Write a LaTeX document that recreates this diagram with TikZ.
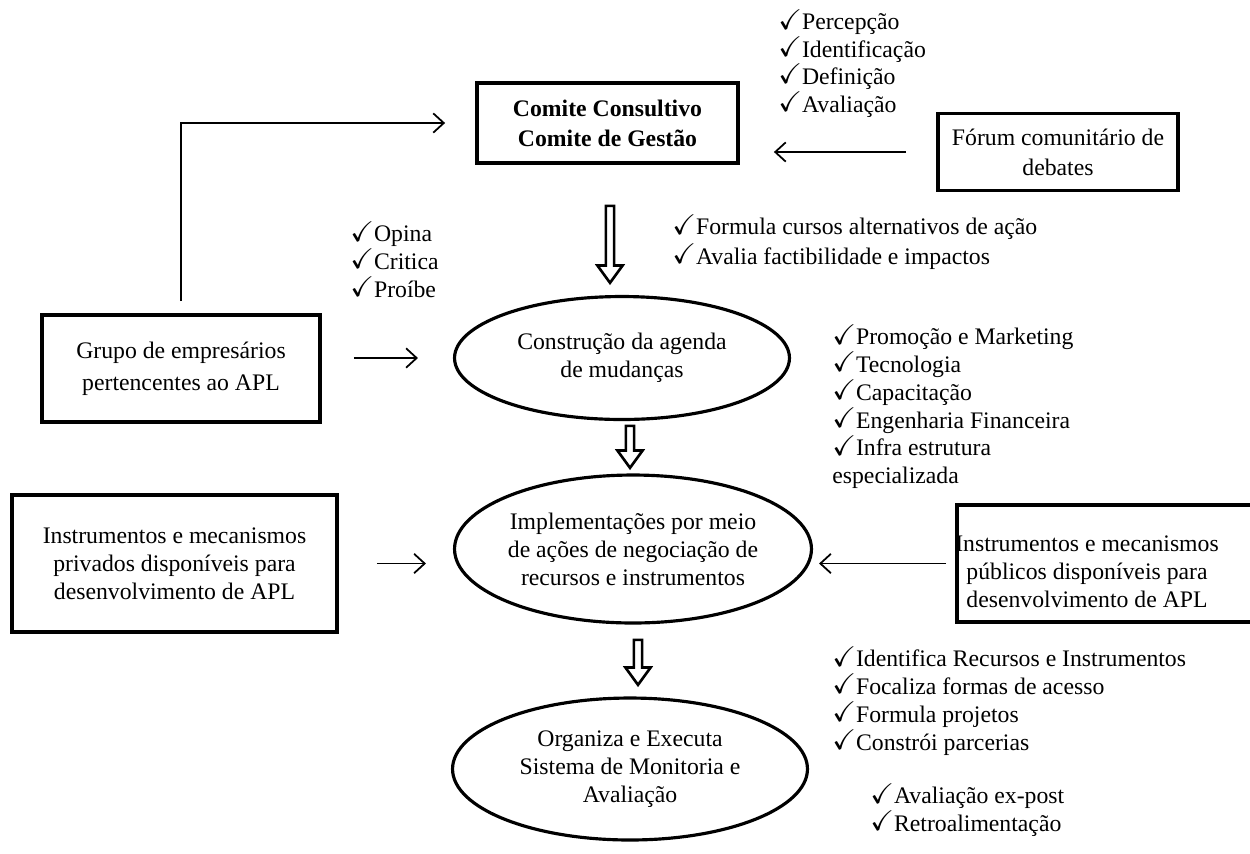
\documentclass[tikz,border=0pt]{standalone}
\usepackage{fontspec}
\setmainfont{Liberation Serif}
\usepackage{amssymb}
\usetikzlibrary{shapes,arrows.meta,positioning}
\newcommand{\ck}{\raisebox{0.5pt}{\scalebox{1.2}{$\checkmark$}}}

\begin{document}
\begin{tikzpicture}[x=0.02cm, y=-0.02cm,
    font=\fontsize{13.5}{16}\selectfont,
    box/.style={rectangle, draw, line width=2.2pt, align=center, inner sep=0pt},
    stage/.style={ellipse, draw, line width=1.8pt, align=center, inner sep=0pt},
    list/.style={anchor=north west, inner sep=0pt, align=left, font=\fontsize{13.5}{15.8}\selectfont},
    arrow/.style={-{Straight Barb[length=6pt,width=11pt]}, line width=1pt},
    flow/.style={single arrow, draw, line width=1.5pt, rotate=-90, inner sep=0.056cm,
        single arrow head extend=0.17cm, single arrow tip angle=72}
]
    \useasboundingbox (0,0) rectangle (1250,853);

    % boxes and stages
    \node[box, minimum width=5.22cm, minimum height=1.6cm, font=\fontsize{13.5}{17}\selectfont\bfseries] (comite) at (607.5,123) {Comite Consultivo\\Comite de Gestão};
    \node[box, minimum width=4.8cm, minimum height=1.54cm, font=\fontsize{13.5}{17}\selectfont] (forum) at (1058,152) {Fórum comunitário de\\debates};
    \node[box, minimum width=5.56cm, minimum height=2.14cm, font=\fontsize{13.5}{18}\selectfont] (grupo) at (181,368.5) {Grupo de empresários\\pertencentes ao APL};
    \node[stage, minimum width=6.7cm, minimum height=2.46cm] (agenda) at (622,358) {Construção da agenda\\de mudanças};
    \node[stage, minimum width=7.14cm, minimum height=2.96cm] (acoes) at (633,549) {Implementações por meio\\de ações de negociação de\\recursos e instrumentos};
    \node[box, minimum width=6.5cm, minimum height=2.74cm] (privados) at (174.5,563.5) {Instrumentos e mecanismos\\privados disponíveis para\\desenvolvimento de APL};
    \node[box, minimum width=5.92cm, minimum height=2.34cm] (publicos) at (1105,563.5) {};
    \node[align=center, inner sep=0pt] (publicostxt) at (1087,572) {Instrumentos e mecanismos\\públicos disponíveis para\\desenvolvimento de APL};
    \node[stage, minimum width=7.1cm, minimum height=2.84cm] (monitoria) at (630,769) {Organiza e Executa\\Sistema de Monitoria e\\Avaliação};

    % check lists
    \node[list, font=\fontsize{13.5}{13.6}\selectfont] (etapas) at (778,9) {\ck Percepção\\\ck Identificação\\\ck Definição\\\ck Avaliação};
    \node[list, font=\fontsize{13.5}{17}\selectfont] (formula) at (672,214) {\ck Formula cursos alternativos de ação\\\ck Avalia factibilidade e impactos};
    \node[list] (opina) at (350,221) {\ck Opina\\\ck Critica\\\ck Proíbe};
    \node[list] (temas) at (832,324) {\ck Promoção e Marketing\\\ck Tecnologia\\\ck Capacitação\\\ck Engenharia Financeira\\\ck Infra estrutura\\especializada};
    \node[list] (recursos) at (832,646) {\ck Identifica Recursos e Instrumentos\\\ck Focaliza formas de acesso\\\ck Formula projetos\\\ck Constrói parcerias};
    \node[list] (retro) at (870,783) {\ck Avaliação ex-post\\\ck Retroalimentação};

    % hollow flow arrows
    \node[flow, minimum height=1.54cm] (seta1) at (610,241.5) {};
    \node[flow, minimum height=0.84cm] (seta2) at (630,444) {};
    \node[flow, minimum height=0.9cm] (seta3) at (638,659.5) {};

    % connectors
    \draw[arrow, shorten <=0.24cm, shorten >=0.6cm] (grupo.north) |- (comite.west);
    \draw[arrow, shorten <=0.6cm, shorten >=0.68cm] (forum.west) -- (forum.west -| comite.east);
    \draw[arrow, shorten <=0.64cm, shorten >=0.7cm] (grupo.east |- agenda.west) -- (agenda.west);
    \draw[arrow, shorten <=0.76cm, shorten >=0.54cm] (privados.east) -- (privados.east -| acoes.west);
    \draw[arrow, shorten <=0.18cm, shorten >=0.12cm] (publicos.west) -- (publicos.west -| acoes.east);
\end{tikzpicture}
\end{document}
